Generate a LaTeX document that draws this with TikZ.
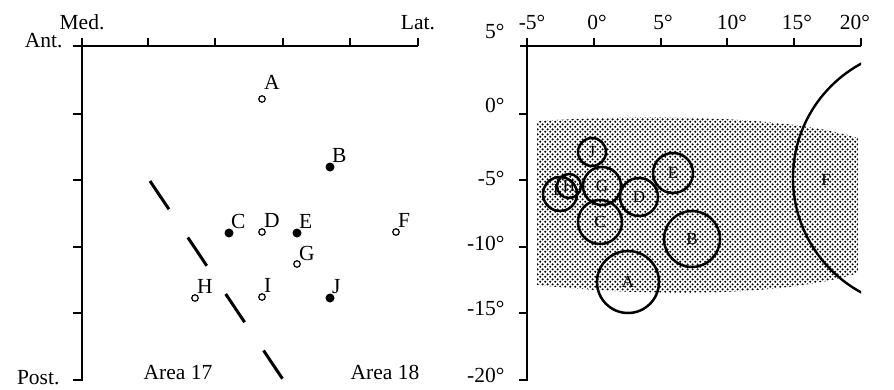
\documentclass[tikz,border=0pt]{standalone}
\usepackage{fontspec}
\setmainfont{Liberation Serif}
\usetikzlibrary{patterns}

% stippled shading for the grey area
\pgfdeclarepatternformonly{stipple}{\pgfqpoint{0pt}{0pt}}{\pgfqpoint{5.4pt}{5.4pt}}{\pgfqpoint{5.4pt}{5.4pt}}{%
  \pgfpathcircle{\pgfqpoint{1.35pt}{1.35pt}}{1.3pt}%
  \pgfpathcircle{\pgfqpoint{4.05pt}{4.05pt}}{1.3pt}%
  \pgfusepath{fill}}

\begin{document}
\begin{tikzpicture}[x=1pt, y=-1pt,
    every node/.style={font=\fontsize{21.5}{24}\selectfont},
    axis/.style={line width=2.6pt},
    tick/.style={line width=1.9pt},
    opendot/.style={circle, draw, line width=1.2pt, fill=white, inner sep=0pt, minimum size=6.5pt},
    fulldot/.style={circle, fill, inner sep=0pt, minimum size=9pt},
    ptlabel/.style={inner sep=0pt, anchor=base west},
    rf/.style={circle, draw, line width=2.5pt, inner sep=0pt, font=\fontsize{17}{19}\selectfont}]
    \useasboundingbox (0,0) rectangle (894,389);

    % Left panel: axes
    \draw[axis] (73,46) -- (418,46);
    \draw[axis] (82,46) -- (82,381);
    \foreach \x in {82,148,215,283,350,418} \draw[tick] (\x,46) -- (\x,38);
    \foreach \y in {114,180,247,313,380} \draw[tick] (82,\y) -- (73,\y);

    \node[anchor=base] (med) at (82,29) {Med.};
    \node[anchor=base] (lat) at (418,29) {Lat.};
    \node[anchor=base east] (ant) at (66,47) {Ant.};
    \node[anchor=base east] (post) at (63,384) {Post.};

    % Border between the areas
    \draw[line width=3pt, dash pattern=on 34pt off 34pt] (150,181) -- (284,381);
    \node[anchor=base] (area17) at (178,379) {Area 17};
    \node[anchor=base] (area18) at (385,379) {Area 18};

    % Recording sites
    \foreach \n/\x/\y/\s/\d in {A/262/99/opendot/10, B/330/167/fulldot/5,
        C/229/233/fulldot/5, D/262/232/opendot/5, E/297/233/fulldot/5,
        F/396/232/opendot/5, G/297/264/opendot/4, H/195/298/opendot/5,
        I/262/297/opendot/5, J/330/298/fulldot/5} {
      \node[\s] (p\n) at (\x,\y) {};
      \node[ptlabel] (l\n) at ([shift={(2,-\d)}]p\n.center) {\n};
    }

    % Right panel: axes
    \draw[axis] (520,46) -- (861,46);
    \draw[axis] (527,46) -- (527,381);
    \foreach \x in {527,594,661,727,794,861} \draw[tick] (\x,46) -- (\x,38);
    \foreach \y in {114,180,247,313,380} \draw[tick] (527,\y) -- (519,\y);

    \foreach \v/\x in {-5/532,0/597,5/663,10/732,15/797,20/855}
      \node[anchor=base] (xl\v) at (\x,29) {\v°};
    \foreach \v/\y in {5/38,0/112,-5/185,-10/250,-15/315,-20/382}
      \node[anchor=base east] (yl\v) at (508,\y) {\v°};

    % Shaded region
    \fill[pattern=stipple] (537,121) .. controls (650,114) and (790,116) .. (858,138)
        -- (858,273) .. controls (800,292) and (680,300) .. (537,285) -- cycle;

    % Receptive fields
    \node[rf, minimum size=62pt] (rfA) at (628,282) {A};
    \node[rf, minimum size=56pt] (rfB) at (692,239) {B};
    \node[rf, minimum size=44pt] (rfC) at (600,222) {C};
    \node[rf, minimum size=38pt] (rfD) at (639,197) {D};
    \node[rf, minimum size=40pt] (rfE) at (673,173) {E};
    \node[rf, minimum size=38pt] (rfG) at (602,186) {G};
    \node[rf, minimum size=28pt] (rfJ) at (592,152) {J};
    \node[rf, minimum size=34pt] (rfI) at (560,194) {};
    \node[font=\fontsize{17}{19}\selectfont] (lbI) at (556,190) {I};
    \node[rf, minimum size=24pt] (rfH) at (569,186) {H};

    \begin{scope}
      \clip (527,30) rectangle (861,389);
      \draw[line width=2.4pt] (923,178) circle[radius=130];
    \end{scope}
    \node[font=\fontsize{17}{19}\selectfont] (rfF) at (826,180) {F};
\end{tikzpicture}
\end{document}
